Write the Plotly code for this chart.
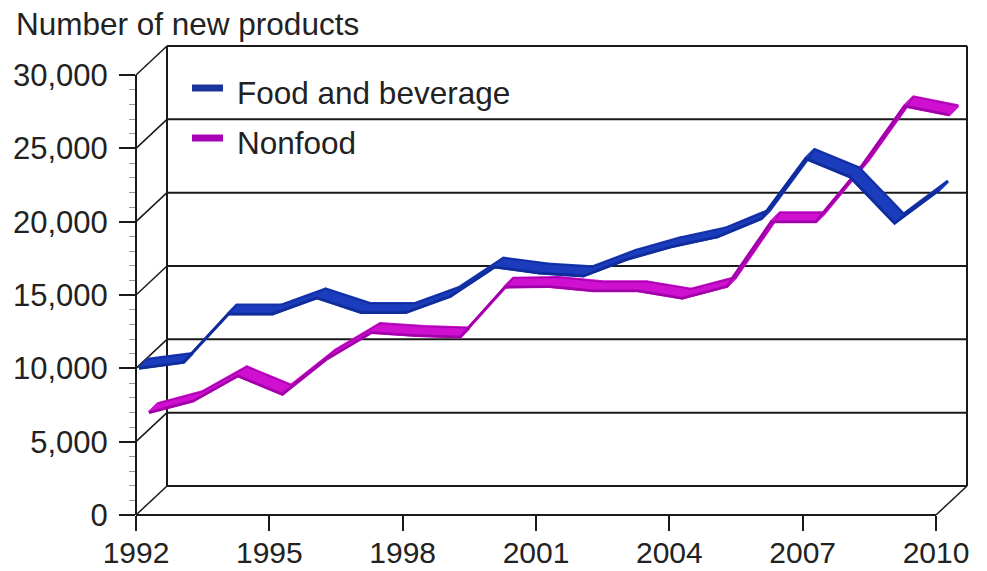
import plotly.graph_objects as go

# ---------------- data ----------------
years = list(range(1992, 2011))
food_bev = [9800, 10200, 13500, 13500, 14600, 13600, 13600, 14700, 16700, 16300,
            16100, 17250, 18100, 18750, 20000, 24100, 22850, 19700, 21950]
nonfood = [6100, 6900, 8600, 7350, 9750, 11550, 11350, 11250, 14650, 14700,
           14400, 14400, 13900, 14700, 19100, 19100, 22750, 27000, 26400]
x_ticks = [1992, 1995, 1998, 2001, 2004, 2007, 2010]
y_ticks = [0, 5000, 10000, 15000, 20000, 25000, 30000]
series_names = ["Food and beverage", "Nonfood"]
y_title = "Number of new products"

# ---------------- layout geometry ----------------
W, H = 987, 571
ML, MR, MT, MB = 136, 20, 46, 56
PW, PH = W - ML - MR, H - MT - MB
PX_PER_YEAR = 800 / 18.0          # horizontal scale of front plane
PX_PER_UNIT = 440 / 30000.0       # vertical scale of front plane
XR0 = 1992
XR1 = XR0 + PW / PX_PER_YEAR
YR0 = 0
YR1 = PH / PX_PER_UNIT
DX = XR1 - 2010                   # depth offset (back wall) in years
DY = YR1 - 30000                  # depth offset (back wall) in units


def dx_px(p):
    return p / PX_PER_YEAR


def dy_px(p):
    return p / PX_PER_UNIT


def xp(x):
    return (x - XR0) / (XR1 - XR0)


def yp(y):
    return (y - YR0) / (YR1 - YR0)


def ribbon(xs, ys, f, b):
    X, Y = [], []
    for i in range(len(xs) - 1):
        x0, y0, x1, y1 = xs[i], ys[i], xs[i + 1], ys[i + 1]
        pts = [(x0 + dx_px(f), y0 + dy_px(f)), (x1 + dx_px(f), y1 + dy_px(f)),
               (x1 + dx_px(b), y1 + dy_px(b)), (x0 + dx_px(b), y0 + dy_px(b)),
               (x0 + dx_px(f), y0 + dy_px(f))]
        for px_, py_ in pts:
            X.append(px_)
            Y.append(py_)
        X.append(None)
        Y.append(None)
    return X, Y


def edge(xs, ys, f):
    return [x + dx_px(f) for x in xs], [y + dy_px(f) for y in ys]


BLUE = "#1b3cbc"
BLUE_D = "#102c98"
MAG = "#d010d0"
MAG_D = "#a000a8"

fig = go.Figure()


def add_series(vals, f, b, fill, dark, name):
    rx, ry = ribbon(years, vals, f, b)
    fig.add_trace(go.Scatter(x=rx, y=ry, mode="lines", fill="toself", fillcolor=fill,
                             line=dict(color=fill, width=3, shape="linear"),
                             hoverinfo="skip", showlegend=False))
    ex, ey = edge(years, vals, f)
    fig.add_trace(go.Scatter(x=ex, y=ey, mode="lines", line=dict(color=dark, width=2.5),
                             name=name, showlegend=False))
    bx, by = edge(years, vals, b)
    fig.add_trace(go.Scatter(x=bx, y=by, mode="lines", line=dict(color=dark, width=1.2),
                             hoverinfo="skip", showlegend=False))


add_series(nonfood, 13, 22, MAG, MAG_D, series_names[1])
add_series(food_bev, 3, 12, BLUE, BLUE_D, series_names[0])

# ---------------- frame shapes ----------------
LC = "#1a1a1a"
shapes = []


def seg(x0, y0, x1, y1, w=2, color=LC):
    shapes.append(dict(type="line", xref="paper", yref="paper",
                       x0=xp(x0), y0=yp(y0), x1=xp(x1), y1=yp(y1),
                       line=dict(color=color, width=w), layer="below"))


for v in y_ticks:
    seg(1992 + DX, v + DY, 2010 + DX, v + DY)      # back-wall grid line
    seg(1992, v, 1992 + DX, v + DY, w=1.5)          # side-wall diagonal
seg(1992 + DX, DY, 1992 + DX, 30000 + DY)           # back wall left edge
seg(2010 + DX, DY, 2010 + DX, 30000 + DY)           # back wall right edge
seg(2010, 0, 2010 + DX, DY, w=1.5)                  # floor right diagonal
seg(1992, 0, 1992, 30000)                           # front y axis
seg(1992, 0, 2010, 0)                               # front x axis

# ---------------- legend (manual) ----------------
leg_y = [88, 138]
leg_col = ["#1c3497", "#a800b4"]
annotations = []
for name, ly, col in zip(series_names, leg_y, leg_col):
    shapes.append(dict(type="line", xref="paper", yref="paper",
                       x0=(192 - ML) / PW, x1=(223 - ML) / PW,
                       y0=(H - MB - ly) / PH, y1=(H - MB - ly) / PH,
                       line=dict(color=col, width=7)))
    annotations.append(dict(text=name, xref="paper", yref="paper",
                            x=(235 - ML) / PW, y=(H - MB - ly - 5) / PH,
                            xanchor="left", yanchor="middle", showarrow=False,
                            font=dict(size=31.5, color="#222")))

annotations.append(dict(text=y_title, xref="paper", yref="paper",
                        x=(14 - ML) / PW, y=(H - MB - 24) / PH,
                        xanchor="left", yanchor="middle", showarrow=False,
                        font=dict(size=31.5, color="#222")))

fig.update_layout(
    width=W, height=H,
    margin=dict(l=ML, r=MR, t=MT, b=MB, pad=0),
    paper_bgcolor="white", plot_bgcolor="white",
    font=dict(family="Liberation Sans, Arial, sans-serif", color="#222"),
    shapes=shapes, annotations=annotations,
    showlegend=False,
    xaxis=dict(range=[XR0, XR1], showgrid=False, zeroline=False, showline=False,
               automargin=False,
               tickmode="array", tickvals=x_ticks, ticktext=[str(t) for t in x_ticks],
               ticks="outside", ticklen=15, tickwidth=2, tickcolor=LC,
               ticklabelstandoff=-4,
               tickfont=dict(size=30, color="#222")),
    yaxis=dict(range=[YR0, YR1], showgrid=False, zeroline=False, showline=False,
               automargin=False,
               tickmode="array", tickvals=y_ticks, tickformat=",",
               ticks="outside", ticklen=16, tickwidth=2, tickcolor=LC,
               tickfont=dict(size=31, color="#222"), ticklabelstandoff=5,
               minor=dict(tickmode="array",
                          tickvals=[v for v in range(1000, 30000, 1000) if v % 5000],
                          ticks="outside", ticklen=6, tickwidth=1, tickcolor="#999")),
)

fig.write_html("out.html")
